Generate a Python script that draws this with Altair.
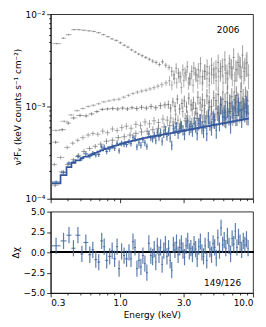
import altair as alt
import pandas as pd

FONT = "DejaVu Sans"

# ---------------- 2006 spectrum (blue) ----------------
blue_edges = [0.305, 0.356, 0.395, 0.430, 0.461, 0.502, 0.529, 0.576, 0.607, 0.639,
              0.673, 0.708, 0.746, 0.772, 0.813, 0.856, 0.886, 0.932, 0.965, 0.999,
              1.052, 1.089, 1.146, 1.186, 1.228, 1.271, 1.315, 1.361, 1.409, 1.458,
              1.509, 1.562, 1.616, 1.673, 1.731,
              1.78, 1.83, 1.88, 1.93, 1.99, 2.04, 2.10, 2.16, 2.22, 2.28,
              2.35, 2.41, 2.48, 2.55, 2.62, 2.69, 2.77, 2.85, 2.93, 3.01,
              3.09, 3.18, 3.27, 3.36, 3.45, 3.55, 3.65, 3.75, 3.85, 3.96,
              4.07, 4.18, 4.30, 4.42, 4.55, 4.67, 4.80, 4.94, 5.07, 5.22,
              5.36, 5.51, 5.67, 5.82, 5.99, 6.15, 6.33, 6.50, 6.68, 6.87,
              7.06, 7.26, 7.46, 7.67, 7.88, 8.10, 8.33, 8.56, 8.80, 9.05, 9.30]
# model (x1e-4)
blue_model = [1.47, 1.80, 2.20, 2.45, 2.60, 2.75, 2.85, 2.95, 3.05, 3.15,
              3.25, 3.35, 3.45, 3.50, 3.60, 3.65, 3.75, 3.80, 3.85, 3.95,
              4.00, 4.10, 4.15, 4.20, 4.25, 4.30, 4.35, 4.40, 4.45, 4.50,
              4.55, 4.60, 4.65, 4.70,
              4.72, 4.75, 4.79, 4.83, 4.86, 4.90, 4.94, 4.97, 5.01, 5.05,
              5.09, 5.12, 5.16, 5.20, 5.24, 5.28, 5.32, 5.36, 5.40, 5.44,
              5.48, 5.52, 5.56, 5.60, 5.64, 5.69, 5.73, 5.77, 5.82, 5.86,
              5.90, 5.95, 5.99, 6.04, 6.08, 6.13, 6.17, 6.22, 6.27, 6.31,
              6.36, 6.41, 6.46, 6.50, 6.55, 6.60, 6.65, 6.70, 6.75, 6.80,
              6.85, 6.90, 6.96, 7.01, 7.06, 7.11, 7.17, 7.22, 7.28, 7.33, 7.38]
# data (x1e-4)
blue_flux = [1.52, 1.93, 2.43, 2.51, 2.87, 2.72, 3.06, 2.90, 3.10, 2.98,
             3.02, 3.63, 3.62, 3.26, 3.47, 3.70, 3.54, 3.99, 3.31, 3.98,
             3.89, 3.87, 4.15, 3.96, 4.64, 4.51, 3.65, 4.05, 3.81, 4.36,
             4.04, 3.68, 5.06, 4.55,
             4.47, 4.92, 4.27, 5.22, 4.71, 5.19, 4.20, 5.07, 5.56, 4.77,
             5.37, 4.56, 3.80, 5.76, 5.43, 6.04, 5.11, 5.78, 6.17, 5.58,
             5.02, 6.14, 6.65, 5.68, 6.06, 5.52, 6.59, 6.12, 5.08, 6.52,
             7.13, 5.95, 5.48, 6.86, 5.05, 7.79, 6.61, 5.88, 7.51, 7.03,
             5.51, 8.60, 6.72, 10.40, 7.73, 8.58, 7.35, 9.51, 7.88, 6.50,
             9.41, 8.42, 10.94, 7.98, 10.15, 9.07, 7.69, 9.65, 8.85, 10.26, 8.30]
# relative error (percent)
blue_relerr = [4, 5, 5, 5, 5, 5, 6, 6, 6, 6,
               6, 6, 7, 7, 7, 7, 7, 7, 7, 7,
               7, 7, 7, 7, 7, 8, 8, 8, 8, 8,
               8, 8, 8, 8,
               9, 9, 9, 10, 10, 10, 10, 10, 11, 11,
               11, 11, 12, 12, 12, 12, 13, 13, 13, 13,
               14, 14, 14, 14, 15, 15, 15, 15, 16, 16,
               16, 16, 17, 17, 17, 18, 18, 18, 18, 19,
               19, 19, 20, 20, 20, 20, 21, 21, 21, 22,
               22, 22, 22, 23, 23, 23, 24, 24, 24, 25, 25]
# residuals (delta chi)
blue_resid = [0.8, 1.4, 2.1, 0.5, 2.1, -0.2, 1.2, -0.3, 0.3, -0.9,
              -1.2, 1.4, 0.7, -1.0, -0.5, 0.2, -0.8, 0.7, -2.0, 0.1,
              -0.4, -0.8, 0.0, -0.8, 1.3, 0.6, -2.0, -1.0, -1.8, -0.4,
              -1.4, -2.5, 1.1, -0.4,
              -0.6, 0.4, -1.2, 0.8, -0.3, 0.6, -1.5, 0.2, 1.0, -0.5,
              0.5, -1.0, -2.2, 0.9, 0.3, 1.2, -0.3, 0.6, 1.1, 0.2,
              -0.6, 0.8, 1.4, 0.1, 0.5, -0.2, 1.0, 0.4, -0.8, 0.7,
              1.3, 0.0, -0.5, 0.8, -1.0, 1.5, 0.4, -0.3, 1.1, 0.6,
              -0.7, 1.8, 0.2, 3.0, 0.9, 1.5, 0.5, 2.0, 0.8, -0.2,
              1.7, 1.0, 2.6, 0.6, 1.9, 1.2, 0.3, 1.4, 0.9, 1.6, 0.5]

# ---------------- other epochs (grey) ----------------
a_edges = [0.31, 0.36, 0.39, 0.43, 0.47, 0.51, 0.56, 0.61, 0.66, 0.72, 0.78, 0.84, 0.90,
           0.97, 1.04, 1.11, 1.18, 1.26, 1.34, 1.42, 1.51, 1.61, 1.71, 1.81, 1.92, 2.03,
           2.14, 2.27, 2.40, 2.49, 2.59, 2.69, 2.80, 2.91, 3.02, 3.14, 3.26, 3.39, 3.52,
           3.66, 3.80, 3.95, 4.10, 4.26, 4.43, 4.60, 4.78, 4.97, 5.16, 5.36, 5.57, 5.79,
           6.02, 6.25, 6.50, 6.75, 7.01, 7.29, 7.57, 7.87, 8.18, 8.50, 8.83, 9.18]
a_flux = [4.8, 5.5, 6.0, 6.8, 6.8, 6.7, 6.6, 6.5, 6.3, 6.0, 5.7, 5.4, 5.2, 4.9, 4.6,
          4.4, 4.1, 3.9, 3.7, 3.55, 3.4, 3.25, 3.1, 3.0, 2.85, 3.05, 2.8, 2.65,
          2.4, 2.2, 2.6, 2.3, 2.1, 2.5, 2.3, 2.7, 2.0, 2.4, 2.6, 2.2, 2.5, 2.9, 2.1,
          2.4, 2.7, 2.3, 2.8, 2.2, 2.6, 3.0, 2.4, 2.7, 3.2, 2.3, 2.9, 2.6, 3.4, 2.5,
          3.0, 2.7, 3.6, 2.6, 3.0]  # x1e-3
a_relerr = [2, 2, 2, 2, 2, 2, 2, 2, 2, 2, 2, 2, 3, 3, 3, 3, 3, 3, 3, 4, 4, 4, 5, 5,
            5, 6, 6, 7,
            12, 12, 13, 13, 14, 14, 15, 15, 16, 16, 17, 17, 18, 18, 19, 19, 20, 20,
            21, 21, 22, 22, 23, 23, 24, 24, 25, 25, 26, 26, 27, 27, 28, 28, 30]

b_edges = [0.305, 0.355, 0.405, 0.45, 0.50, 0.55, 0.60, 0.66, 0.72, 0.79, 0.86, 0.94,
           1.02, 1.11, 1.20, 1.30, 1.40, 1.51, 1.62, 1.74, 1.86, 1.99, 2.13, 2.30,
           2.40, 2.50, 2.61, 2.72, 2.83, 2.95, 3.08, 3.20, 3.33, 3.47, 3.61, 3.76,
           3.91, 4.07, 4.24, 4.41, 4.59, 4.78, 4.97, 5.17, 5.38, 5.60, 5.83, 6.07,
           6.32, 6.58, 6.85, 7.13, 7.42, 7.72, 8.04, 8.37, 8.71, 9.07, 9.44]
b_flux = [0.55, 0.69, 0.81, 0.90, 0.95, 1.0, 1.03, 1.07, 1.12, 1.15, 1.18, 1.20,
          1.26, 1.32, 1.38, 1.43, 1.47, 1.50, 1.55, 1.60, 1.66, 1.72, 1.80,
          1.9, 1.7, 2.0, 1.8, 2.1, 1.6, 1.9, 2.2, 1.8, 2.0, 1.7, 2.3, 1.9, 2.1, 1.8,
          2.4, 2.0, 1.7, 2.2, 2.5, 1.9, 2.1, 2.6, 1.8, 2.3, 2.0, 2.7, 2.2, 1.9, 2.5,
          2.8, 2.1, 2.4, 2.9, 2.2]  # x1e-3
b_relerr = [3, 3, 3, 3, 3, 3, 3, 3, 3, 3, 4, 4, 4, 4, 4, 5, 5, 5, 5, 6, 6, 7, 7,
            12, 12, 13, 13, 14, 14, 15, 15, 16, 16, 17, 17, 18, 18, 19, 19, 20, 20,
            21, 21, 22, 22, 23, 23, 24, 24, 25, 25, 26, 26, 27, 27, 28, 28, 30]

c_edges = [0.31, 0.345, 0.39, 0.425, 0.47, 0.53, 0.58, 0.64, 0.70, 0.77, 0.84, 0.92,
           1.00, 1.09, 1.18, 1.28, 1.39, 1.51, 1.64, 1.78, 1.93, 2.09, 2.26, 2.35,
           2.45, 2.54, 2.64, 2.75, 2.86, 2.98, 3.10, 3.22, 3.35, 3.49, 3.63, 3.77,
           3.92, 4.08, 4.24, 4.41, 4.59, 4.77, 4.96, 5.16, 5.37, 5.58, 5.81, 6.04,
           6.28, 6.53, 6.79, 7.06, 7.35, 7.64, 7.95, 8.26, 8.59, 8.94, 9.30]
c_flux = [4.1, 5.6, 6.6, 7.5, 8.0, 7.9, 8.3, 8.8, 9.3, 9.4, 9.5, 9.4, 9.6, 9.4, 9.7,
          9.5, 9.8, 9.6, 10.0, 9.7, 10.2, 10.4,
          10.5, 9.6, 11.2, 10.0, 12.0, 9.4, 10.8, 11.5, 9.9, 12.3, 10.4, 11.0, 9.5,
          12.6, 10.9, 11.8, 10.2, 13.0, 11.1, 10.0, 12.4, 11.6, 13.5, 10.6, 12.0,
          11.3, 14.0, 10.9, 12.7, 11.8, 13.2, 11.0, 14.5, 12.2, 12.9, 11.5]  # x1e-4
c_relerr = [4, 4, 4, 4, 4, 4, 4, 4, 4, 4, 5, 5, 5, 5, 5, 6, 6, 6, 7, 7, 8, 8,
            10, 11, 11, 12, 12, 13, 13, 14, 14, 15, 15, 16, 16, 17, 17, 18, 18, 19,
            19, 20, 20, 21, 21, 22, 22, 23, 23, 24, 24, 25, 25, 26, 26, 27, 27, 28]

d_edges = [0.305, 0.335, 0.38, 0.42, 0.46, 0.50, 0.55, 0.60, 0.65, 0.71, 0.77, 0.84,
           0.91, 0.99, 1.07, 1.16, 1.26, 1.37, 1.48, 1.60, 1.73, 1.87, 2.02, 2.18,
           2.35, 2.45, 2.56, 2.67, 2.78, 2.90, 3.02, 3.15, 3.28, 3.42, 3.56, 3.71,
           3.87, 4.03, 4.20, 4.38, 4.56, 4.75, 4.95, 5.16, 5.38, 5.60, 5.84, 6.08,
           6.34, 6.60, 6.88, 7.17, 7.47, 7.78, 8.11, 8.45, 8.80, 9.17]
d_flux = [2.35, 2.8, 3.6, 4.0, 4.3, 4.6, 4.9, 5.1, 5.0, 5.4, 5.2, 5.7, 5.5, 5.9, 6.1,
          5.8, 6.4, 6.2, 6.8, 6.5, 7.0, 6.7, 7.3, 7.1,
          7.5, 6.8, 8.2, 7.1, 6.5, 8.8, 7.4, 7.9, 6.9, 9.3, 7.6, 8.4, 7.0, 9.0, 8.1,
          7.5, 9.8, 8.3, 7.7, 9.4, 8.6, 10.3, 7.9, 9.1, 8.7, 10.8, 8.2, 9.6, 11.3,
          8.9, 10.1, 9.5, 11.8]  # x1e-4
d_relerr = [5, 5, 5, 5, 5, 6, 6, 6, 6, 7, 7, 7, 7, 8, 8, 8, 9, 9, 9, 10, 10, 10, 11, 11,
            12, 12, 13, 13, 14, 14, 15, 15, 16, 16, 17, 17, 18, 18, 19, 19, 20, 20,
            21, 21, 22, 22, 23, 23, 24, 24, 25, 25, 26, 26, 27, 27, 28]

e_edges = [0.305, 0.345, 0.385, 0.425, 0.465, 0.51, 0.56, 0.62, 0.68, 0.75, 0.83,
           0.92, 1.02, 1.13, 1.25, 1.38, 1.52, 1.68, 1.85, 2.04, 2.25, 2.48, 2.73,
           3.0, 3.3, 3.63, 3.99, 4.39, 4.83, 5.31, 5.84, 6.42, 7.06, 7.77, 8.55, 9.4]
e_flux = [1.40, 1.95, 2.35, 2.65, 2.95, 3.25, 3.5, 3.7, 3.9, 4.2, 4.3, 4.6, 4.7, 4.9,
          5.1, 5.3, 5.4, 5.6, 5.8, 6.0,
          6.2, 6.6, 6.0, 7.0, 6.5, 7.4, 6.8, 7.9, 7.2, 8.3, 7.6, 8.8, 8.0, 9.2, 8.5]  # x1e-4
e_relerr = [5, 5, 5, 5, 6, 6, 6, 6, 7, 7, 7, 7, 8, 8, 8, 9, 9, 9, 10, 10,
            12, 13, 14, 15, 16, 17, 18, 19, 20, 21, 22, 23, 24, 25, 26]

grey_names = ["A", "B", "C", "D", "E"]
grey_colors = ["#5e5e5e", "#7a7a7a", "#3e3e3e", "#6a6a6a", "#505050"]

# annotations
label_text = ["2006"]
label_x = [6.5]
label_y = [6.8e-3]
stat_text = ["149/126"]
stat_x = [5.9]
stat_y = [-3.8]

x_ticks = [0.3, 0.4, 0.5, 0.6, 0.7, 0.8, 0.9, 1, 2, 3, 4, 5, 6, 7, 8, 9, 10]
y_ticks = [1e-4, 2e-4, 3e-4, 4e-4, 5e-4, 6e-4, 7e-4, 8e-4, 9e-4,
           1e-3, 2e-3, 3e-3, 4e-3, 5e-3, 6e-3, 7e-3, 8e-3, 9e-3, 1e-2]
r_ticks = [-5, -2.5, 0, 2.5, 5]


def rows(name, edges, flux, rel, scale):
    out = []
    n = min(len(edges) - 1, len(flux), len(rel))
    for i in range(n):
        lo, hi = edges[i], edges[i + 1]
        f = flux[i] * scale
        e = f * rel[i] / 100.0
        out.append(dict(series=name, elo=lo, ehi=hi, ec=(lo * hi) ** 0.5,
                        f=f, flo=f - e, fhi=f + e))
    return out


grey_rows = []
grey_rows += rows("A", a_edges, a_flux, a_relerr, 1e-3)
grey_rows += rows("B", b_edges, b_flux, b_relerr, 1e-3)
grey_rows += rows("C", c_edges, c_flux, c_relerr, 1e-4)
grey_rows += rows("D", d_edges, d_flux, d_relerr, 1e-4)
grey_rows += rows("E", e_edges, e_flux, e_relerr, 1e-4)
grey_df = pd.DataFrame(grey_rows)

blue_df = pd.DataFrame(rows("2006", blue_edges, blue_flux, blue_relerr, 1e-4))
nres = min(len(blue_edges) - 1, len(blue_resid))
res_df = pd.DataFrame([dict(elo=blue_edges[i], ehi=blue_edges[i + 1],
                            ec=(blue_edges[i] * blue_edges[i + 1]) ** 0.5,
                            r=blue_resid[i], rlo=blue_resid[i] - 1, rhi=blue_resid[i] + 1)
                       for i in range(nres)])
nm = min(len(blue_edges) - 1, len(blue_model))
model_df = pd.DataFrame({"e": blue_edges[:nm + 1],
                         "m": [v * 1e-4 for v in blue_model[:nm]] + [blue_model[nm - 1] * 1e-4]})
label_df = pd.DataFrame({"x": label_x, "y": label_y, "t": label_text})
stat_df = pd.DataFrame({"x": stat_x, "y": stat_y, "t": stat_text})

# ---------------- scales & axes ----------------
xs = alt.Scale(type="log", domain=[0.3, 10], nice=False)
ys = alt.Scale(type="log", domain=[1e-4, 1e-2], nice=False)
rs = alt.Scale(domain=[-5, 5], nice=False)

x_major = "datum.value == 0.3 || datum.value == 1 || datum.value == 3 || datum.value == 10"
y_major = "datum.value == 0.0001 || datum.value == 0.001 || datum.value == 0.01"

x_top_axis = alt.Axis(values=x_ticks, labels=False, title=None, grid=False,
                      tickSize={"condition": {"test": x_major, "value": 4}, "value": 2})
x_bot_axis = alt.Axis(values=x_ticks, title="Energy (keV)", grid=False, labelOverlap=False,
                      labelExpr="(" + x_major + ") ? format(datum.value, '.1f') : ''",
                      tickSize={"condition": {"test": x_major, "value": 4}, "value": 2})
y_top_axis = alt.Axis(values=y_ticks, title="ν²Fᵥ (keV counts s⁻¹ cm⁻²)", grid=False,
                      labelOverlap=False,
                      labelExpr="datum.value == 0.01 ? '10⁻²' : datum.value == 0.001 ? '10⁻³' : datum.value == 0.0001 ? '10⁻⁴' : ''",
                      tickSize={"condition": {"test": y_major, "value": 4}, "value": 2})
r_axis = alt.Axis(values=r_ticks, format=".1f", title="Δχ", grid=False, tickSize=4)

grey_color = alt.Color("series:N", scale=alt.Scale(domain=grey_names, range=grey_colors),
                       legend=None)

BLUE = "#41679f"

g_h = alt.Chart(grey_df).mark_rule(strokeWidth=0.8, opacity=0.65).encode(
    x=alt.X("elo:Q", scale=xs, axis=x_top_axis), x2="ehi:Q",
    y=alt.Y("f:Q", scale=ys, axis=y_top_axis), color=grey_color)
g_v = alt.Chart(grey_df).mark_rule(strokeWidth=0.9, opacity=0.65).encode(
    x=alt.X("ec:Q", scale=xs, axis=x_top_axis),
    y=alt.Y("flo:Q", scale=ys, axis=y_top_axis), y2="fhi:Q", color=grey_color)
b_h = alt.Chart(blue_df).mark_rule(strokeWidth=1.1, opacity=0.85, color=BLUE).encode(
    x=alt.X("elo:Q", scale=xs, axis=x_top_axis), x2="ehi:Q",
    y=alt.Y("f:Q", scale=ys, axis=y_top_axis))
b_v = alt.Chart(blue_df).mark_rule(strokeWidth=1.2, opacity=0.85, color=BLUE).encode(
    x=alt.X("ec:Q", scale=xs, axis=x_top_axis),
    y=alt.Y("flo:Q", scale=ys, axis=y_top_axis), y2="fhi:Q")
model = alt.Chart(model_df).mark_line(interpolate="step-after", color="#34569a",
                                      strokeWidth=1.7).encode(
    x=alt.X("e:Q", scale=xs, axis=x_top_axis),
    y=alt.Y("m:Q", scale=ys, axis=y_top_axis))
lab = alt.Chart(label_df).mark_text(font=FONT, fontSize=9, color="black").encode(
    x=alt.X("x:Q", scale=xs, axis=x_top_axis),
    y=alt.Y("y:Q", scale=ys, axis=y_top_axis), text="t:N")

top = alt.layer(g_h, g_v, b_h, b_v, model, lab).properties(width=204, height=186)

zero = alt.Chart(res_df).mark_rule(color="black", strokeWidth=1).encode(
    y=alt.datum(0, scale=rs, axis=r_axis))
r_h = alt.Chart(res_df).mark_rule(strokeWidth=1.1, opacity=0.85, color=BLUE).encode(
    x=alt.X("elo:Q", scale=xs, axis=x_bot_axis), x2="ehi:Q",
    y=alt.Y("r:Q", scale=rs, axis=r_axis))
r_v = alt.Chart(res_df).mark_rule(strokeWidth=1.2, opacity=0.85, color=BLUE).encode(
    x=alt.X("ec:Q", scale=xs, axis=x_bot_axis),
    y=alt.Y("rlo:Q", scale=rs, axis=r_axis), y2="rhi:Q")
stat = alt.Chart(stat_df).mark_text(font=FONT, fontSize=9, color="black").encode(
    x=alt.X("x:Q", scale=xs, axis=x_bot_axis),
    y=alt.Y("y:Q", scale=rs, axis=r_axis), text="t:N")

bottom = alt.layer(zero, r_h, r_v, stat).properties(width=204, height=82)

chart = alt.vconcat(top, bottom, spacing=2).properties(
    padding={"left": 2, "top": 0, "right": 4, "bottom": 0}
).configure_axis(
    domainColor="black", domainWidth=0.8, tickColor="black", tickWidth=0.8,
    labelColor="black", titleColor="black", labelFont=FONT, titleFont=FONT,
    labelFontSize=9, titleFontSize=9, titleFontWeight="normal",
    labelPadding=2, titlePadding=3
).configure_view(stroke="black", strokeWidth=0.8)

chart.save("out.html", embed_options={"renderer": "svg", "actions": False})
